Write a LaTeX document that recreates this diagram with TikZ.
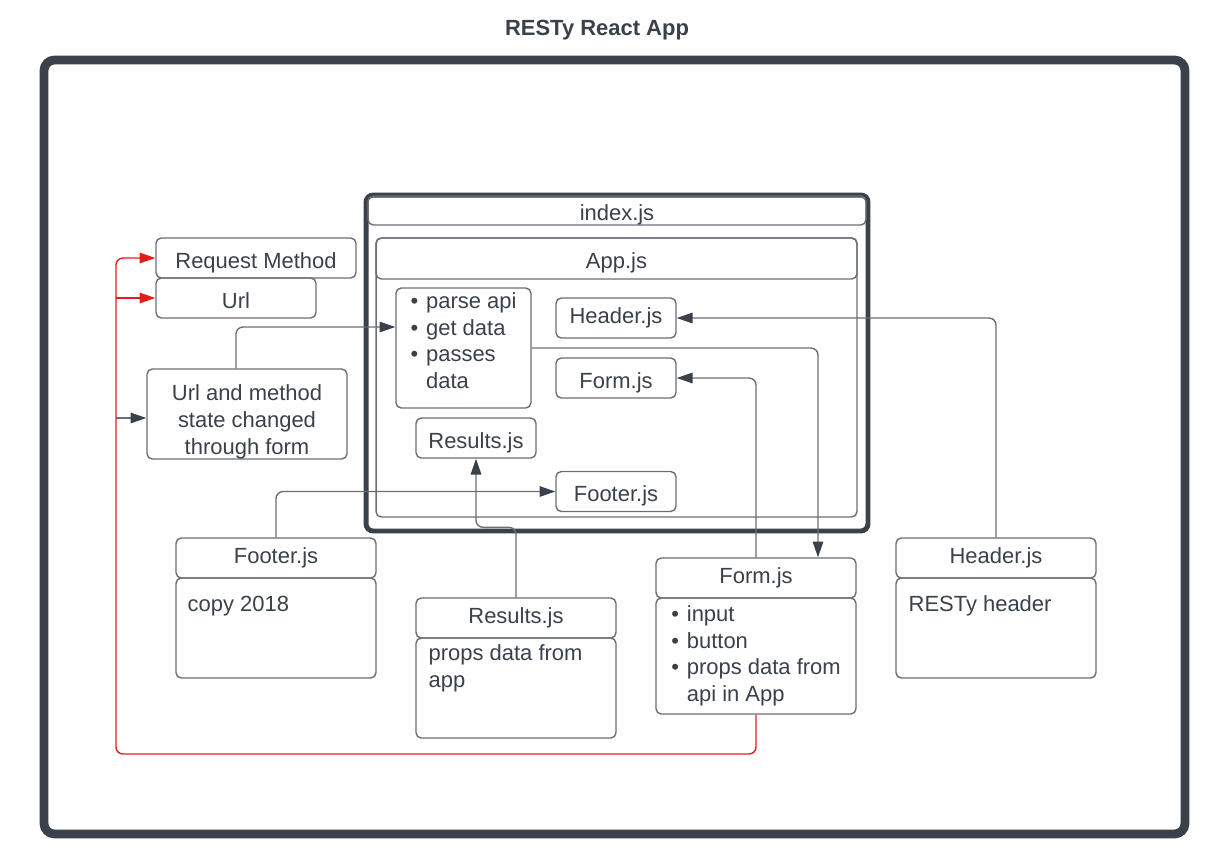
\documentclass[tikz,border=0pt]{standalone}
\usepackage{fontspec}
\setmainfont{Liberation Sans}
\usetikzlibrary{arrows.meta}
\definecolor{ink}{HTML}{3A414A}
\definecolor{edge}{HTML}{6B6E73}
\definecolor{flow}{HTML}{E81B1B}
\tikzset{
  box/.style={draw=edge,rounded corners=3pt,line width=0.8pt,inner sep=0pt,text=ink,align=center,
    execute at begin node=\strut,execute at end node=\strut},
  mid/.style={text height=13.1pt,text depth=1.4pt},
  conn/.style={draw=edge,line width=0.8pt,rounded corners=4pt,-{Triangle[length=9pt,width=6pt,color=ink]}},
  redconn/.style={draw=flow,line width=0.8pt,rounded corners=4pt,-{Triangle[length=9pt,width=6pt,color=flow]}},
  note/.style={text=ink,align=left,inner sep=0pt,anchor=north west}
}
\begin{document}
\begin{tikzpicture}[x=0.02cm,y=-0.02cm,font=\fontsize{12.5}{15.1}\selectfont]
\useasboundingbox (0,0) rectangle (1212,853);
\node[text=ink,font=\fontsize{12.5}{15}\selectfont\bfseries] (title) at (597,30) {RESTy React App};
\draw[ink,line width=5pt,rounded corners=6pt] (44,60) rectangle (1185,834);

\node[box,draw=ink,line width=2.8pt,rounded corners=4pt,minimum width=10.04cm,minimum height=6.72cm] (index) at (617,363) {};
\node[box,mid,minimum width=9.96cm,minimum height=0.58cm] (idxhd) at (617,210.5) {index.js};
\node[box,minimum width=9.62cm,minimum height=5.58cm] (app) at (616.5,377.5) {};
\node[box,mid,minimum width=9.62cm,minimum height=0.82cm] (apphd) at (616.5,258.5) {App.js};

\node[box,text height=30.4pt,text depth=30pt,minimum width=2.7cm,minimum height=2.4cm] (bullets) at (463.5,348) {\begin{tabular}{@{}l@{\hskip 4.5pt}l@{}}\textbullet & parse api\\ \textbullet & get data\\ \textbullet & passes\\ & data\end{tabular}};
\node[box,mid,minimum width=2.4cm,minimum height=0.8cm] (ressm) at (476,438) {Results.js};
\node[box,minimum width=2.4cm,minimum height=0.8cm] (headsm) at (616,318) {Header.js};
\node[box,mid,minimum width=2.4cm,minimum height=0.8cm] (formsm) at (616,378) {Form.js};
\node[box,mid,minimum width=2.4cm,minimum height=0.8cm] (footsm) at (616,491.5) {Footer.js};

\node[box,mid,minimum width=4cm,minimum height=0.8cm] (reqm) at (256,258) {Request Method};
\node[box,mid,minimum width=3.2cm,minimum height=0.8cm] (url) at (236,298) {Url};
\node[box,text height=30.3pt,text depth=15pt,minimum width=4cm,minimum height=1.8cm] (urlm) at (247,414) {\begin{tabular}{@{}c@{}}Url and method\\state changed\\through form\end{tabular}};

\node[box,minimum width=4cm,minimum height=0.8cm] (foothd) at (276,558) {Footer.js};
\node[box,minimum width=4cm,minimum height=2cm] (footbd) at (276,628) {};
\node[note] (foottxt) at ([xshift=0.24cm,yshift=-0.36cm]footbd.north west) {copy 2018};

\node[box,minimum width=4cm,minimum height=0.8cm] (reshd) at (516,618) {Results.js};
\node[box,minimum width=4cm,minimum height=2cm] (resbd) at (516,688) {};
\node[note] (restxt) at ([xshift=0.26cm,yshift=-0.14cm]resbd.north west) {props data from\\app};

\node[box,minimum width=4cm,minimum height=0.8cm] (formhd) at (756,578) {Form.js};
\node[box,minimum width=4cm,minimum height=2.32cm] (formbd) at (756,656) {\begin{tabular}{@{}l@{\hskip 4.5pt}l@{}}\textbullet & input\\ \textbullet & button\\ \textbullet & props data from\\ & api in App\end{tabular}};

\node[box,minimum width=4cm,minimum height=0.8cm] (headhd) at (996,558) {Header.js};
\node[box,minimum width=4cm,minimum height=2cm] (headbd) at (996,628) {};
\node[note] (headtxt) at ([xshift=0.26cm,yshift=-0.36cm]headbd.north west) {RESTy header};

\draw[conn] ([xshift=-0.22cm]urlm.north) |- ([yshift=0.42cm]bullets.west);
\draw[conn] (bullets.east) -| ([xshift=1.24cm]formhd.north);
\draw[conn] (formhd.north) |- (formsm.east);
\draw[conn] (headhd.north) |- (headsm.east);
\draw[conn] (reshd.north) -- ++(0,-70) -| (ressm.south);
\draw[conn] (foothd.north) |- (footsm.west);

\coordinate (redturn) at (116,754);
\coordinate (urlin) at (116,298);
\coordinate (formin) at (116,418);
\draw[redconn] (formbd.south) |- (redturn) |- (reqm.west);
\draw[redconn] (urlin) -- (url.west);
\draw[conn] (formin) -- (formin -| urlm.west);
\end{tikzpicture}
\end{document}
